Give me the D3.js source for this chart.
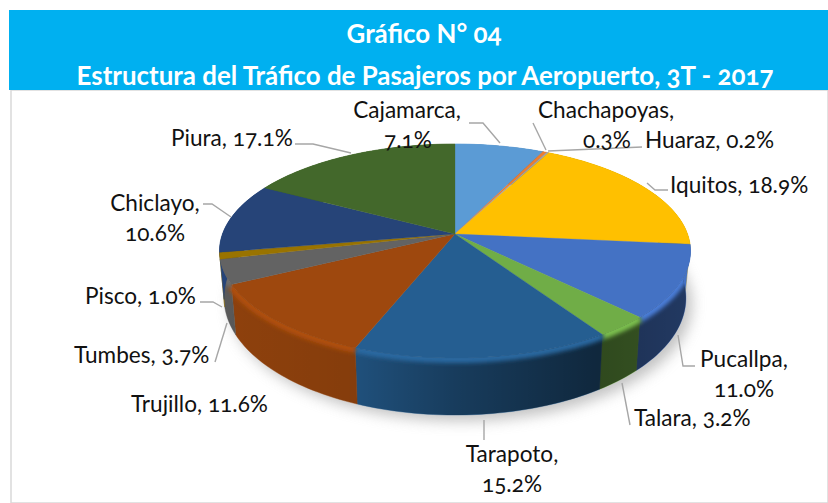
<!DOCTYPE html>
<html><head><meta charset="utf-8">
<script src="https://cdn.jsdelivr.net/npm/d3@7"></script>
<style>
html,body{margin:0;padding:0;background:#fff}
svg{display:block}
text{font-family:Lato,"Noto Sans",sans-serif;font-feature-settings:"onum" 1;font-variant-numeric:oldstyle-nums}
</style></head><body><svg id="c" width="828" height="503"></svg>
<script>
const titleLines = ["Gráfico N° 04", "Estructura del Tráfico de Pasajeros por Aeropuerto, 3T - 2017"];
const categories = ["Cajamarca","Chachapoyas","Huaraz","Iquitos","Pucallpa","Talara","Tarapoto","Trujillo","Tumbes","Pisco","Chiclayo","Piura"];
const shares = [7.1,0.3,0.2,18.9,11.0,3.2,15.2,11.6,3.7,1.0,10.6,17.1];
const colors = ["#5B9BD5","#ED7D31","#A5A5A5","#FFC000","#4472C4","#70AD47","#255E91","#9E480E","#636363","#997300","#264478","#43682B"];
// label layout: [anchor, x, y of the first baseline, break after name?]
const labelLayout = [
 ["middle",407,118,true],["start",538,118,true],["start",645,148,false],["start",670,193,false],
 ["middle",744,367,true],["start",634,426,false],["middle",512,462,true],["start",131,412,false],
 ["start",74,363,false],["start",85,304,false],["middle",155,211,true],["start",171,146,false]];
const secondLineX = [408,607,0,0,744,0,512,0,0,0,155,0];
const leaders = [
 [[469,123],[483,123],[500,143]],[[533,123],[546,150]],[[642,147],[548,151]],[[668,190],[655,190],[647,183]],
 [[695,366],[683,366],[678,335]],[[630,425],[622,383]],[[484,440],[484,420]],[],
 [[215,362],[227,323]],[[200,302],[213,302],[222,307]],[[203,204],[212,204],[231,217]],[[295,144],[313,144],[351,153]]];

const svg = d3.select("#c");
const defs = svg.append("defs");
defs.append("filter").attr("id","b8").attr("x","-20%").attr("y","-20%").attr("width","140%").attr("height","140%")
  .append("feGaussianBlur").attr("stdDeviation",7);
defs.append("filter").attr("id","b2").attr("filterUnits","userSpaceOnUse").attr("x",0).attr("y",0).attr("width",828).attr("height",503)
  .append("feGaussianBlur").attr("stdDeviation",2);
const g = defs.append("linearGradient").attr("id","shade").attr("gradientUnits","userSpaceOnUse")
  .attr("x1",218).attr("x2",692).attr("y1",0).attr("y2",0);
[[0,.1],[.3,.16],[.5,.36],[.8,.58],[1,.5]].forEach(([o,a])=>g.append("stop").attr("offset",o).attr("stop-color","#000").attr("stop-opacity",a));

// frame and title band
svg.append("rect").attr("x",11).attr("y",90).attr("width",817).attr("height",413).attr("fill","#fff").attr("stroke","#d9d9d9").attr("stroke-width",1.5);
svg.append("rect").attr("x",9).attr("y",10).attr("width",819).attr("height",80).attr("fill","#00B0F0");
svg.selectAll("text.t").data(titleLines).join("text").attr("class","t")
  .attr("x",(d,i)=>i?425:424).attr("y",(d,i)=>i?85:43).attr("text-anchor","middle")
  .attr("fill","#fff").attr("font-weight",700).attr("font-size",25.9).text(d=>d);

// perspective pie
const k = 0.159;
const topDisc = {cx:455,cy:234,R:232.5,S:104.3}, botDisc = {cx:455,cy:279.5,R:228,S:114};
const proj = (a,p)=>{const X=Math.sin(a),Y=-Math.cos(a),w=1-k*Y;return [p.cx+p.R*X/w,p.cy+p.S*Y/w];};
const arcs = d3.pie().sort(null).value(d=>d)(shares);
const samples = (a0,a1)=>d3.range(0,1.0001,1/Math.max(2,Math.ceil((a1-a0)*40))).map(t=>a0+(a1-a0)*t);
const line = d3.line();

// ground shadow
const circ = samples(0,2*Math.PI);
svg.append("path").attr("d",line(circ.map(a=>{const p=proj(a,botDisc);return [p[0]+6,p[1]+6];}))+"Z").attr("fill","#9a9a9a").attr("opacity",.6).attr("filter","url(#b8)");

// side walls
const wall = (a0,a1)=>{const s=samples(a0,a1);return line(s.map(a=>proj(a,topDisc)).concat(s.slice().reverse().map(a=>proj(a,botDisc))))+"Z";};
svg.append("g").selectAll("path").data(arcs).join("path")
  .attr("d",d=>wall(d.startAngle,d.endAngle)).attr("fill",(d,i)=>colors[i]).attr("stroke",(d,i)=>colors[i]).attr("stroke-width",.4);
svg.append("path").attr("d",wall(0,2*Math.PI)).attr("fill","url(#shade)");

// rim bevel, clipped to the visible side of the pie
defs.append("clipPath").attr("id","sil").append("path").attr("d",wall(0,2*Math.PI));
const rim = svg.append("g").attr("clip-path","url(#sil)");
rim.selectAll("path").data(arcs).join("path")
  .attr("d",d=>line(samples(d.startAngle,d.endAngle).map(a=>{const p=proj(a,topDisc);return [p[0],p[1]+1];})))
  .attr("fill","none").attr("stroke",(d,i)=>d3.color(colors[i]).brighter(.3)).attr("stroke-width",8).attr("filter","url(#b2)");

// top face
svg.append("g").selectAll("path").data(arcs).join("path")
  .attr("d",d=>line([[topDisc.cx,topDisc.cy]].concat(samples(d.startAngle,d.endAngle).map(a=>proj(a,topDisc))))+"Z")
  .attr("fill",(d,i)=>colors[i]).attr("stroke",(d,i)=>colors[i]).attr("stroke-width",.3);

// leaders
svg.append("g").selectAll("path").data(leaders.filter(l=>l.length)).join("path")
  .attr("d",d=>line(d)).attr("fill","none").attr("stroke","#a6a6a6").attr("stroke-width",1.4);

// labels
const fmt = d3.format(".1f");
categories.forEach((c,i)=>{
  const [anchor,x,y,brk]=labelLayout[i], pct=fmt(shares[i])+"%";
  const add=(s,px,py)=>svg.append("text").attr("x",px).attr("y",py).attr("text-anchor",anchor).attr("font-size",22.6).attr("fill","#111").text(s);
  if(brk){add(c+",",x,y); svg.append("text").attr("x",secondLineX[i]).attr("y",y+30).attr("text-anchor","middle").attr("font-size",22.6).attr("fill","#111").text(pct);}
  else add(c+", "+pct,x,y);
});
</script></body></html>
